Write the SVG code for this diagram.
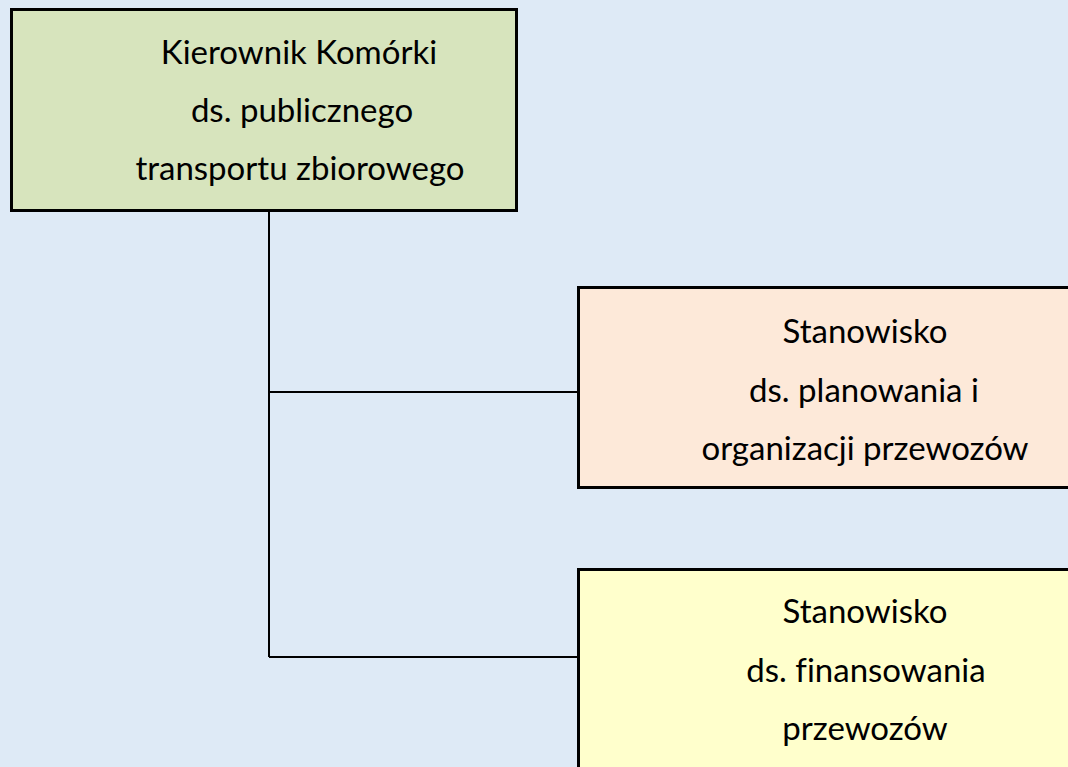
<svg xmlns="http://www.w3.org/2000/svg" width="1068" height="767" viewBox="0 0 1068 767">
<style>
.box{stroke:#000;stroke-width:3}
.conn{stroke:#000;stroke-width:2;fill:none}
text{font-family:Lato,"Open Sans",sans-serif;font-size:33px;fill:#000;text-anchor:middle;font-variant-ligatures:none}
</style>
<rect width="1068" height="767" fill="#DEEAF6"/>
<g id="connectors">
<path class="conn" d="M269,212 V657 M269,392 H578 M269,657 H578"/>
</g>
<g id="node-kierownik">
<rect class="box" x="11.5" y="9.5" width="505" height="201" fill="#D7E4BD"/>
<text x="299" y="64">Kierownik Komórki</text>
<text x="302" y="122">ds. publicznego</text>
<text x="300" y="180">transportu zbiorowego</text>
</g>
<g id="node-planowanie">
<rect class="box" x="578.5" y="287.5" width="500" height="200" fill="#FDE9D9"/>
<text x="865" y="343">Stanowisko</text>
<text x="864" y="402">ds. planowania i</text>
<text x="865" y="460">organizacji przewozów</text>
</g>
<g id="node-finansowanie">
<rect class="box" x="578.5" y="569.5" width="500" height="210" fill="#FFFFCC"/>
<text x="865" y="623">Stanowisko</text>
<text x="866" y="682">ds. finansowania</text>
<text x="865" y="740">przewozów</text>
</g>
</svg>
